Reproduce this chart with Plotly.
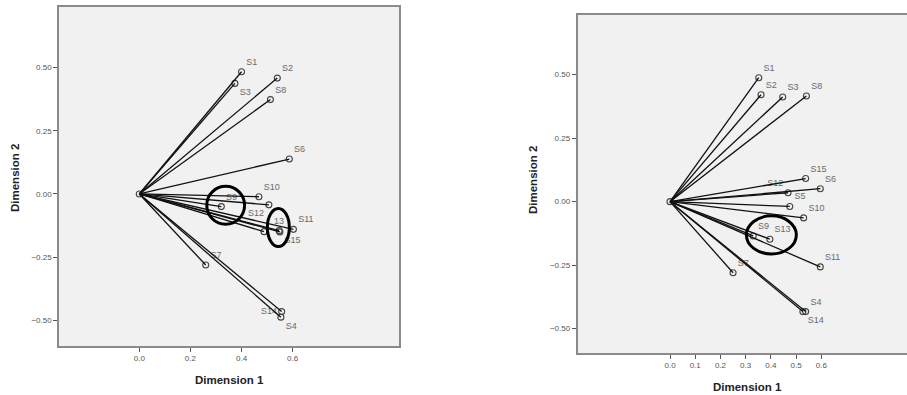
import plotly.graph_objects as go

# ---- Left panel data ----
left_labels = ["S1", "S2", "S3", "S4", "S5", "S6", "S7", "S8", "S9", "S10", "S11", "S12", "S13", "S14", "S15"]
left_dim1 = [0.40, 0.54, 0.374, 0.554, 0.488, 0.587, 0.26, 0.513, 0.321, 0.468, 0.603, 0.507, 0.547, 0.557, 0.55]
left_dim2 = [0.483, 0.458, 0.437, -0.487, -0.149, 0.138, -0.281, 0.373, -0.05, -0.011, -0.14, -0.043, -0.145, -0.465, -0.15]
left_shown = ["S1", "S2", "S3", "S4", "", "S6", "S7", "S8", "S9", "S10", "S11", "S12", "13", "S14", "S15"]
left_textpos = ["top right", "top right", "bottom right", "bottom right", "top right", "top right", "top right",
                "top right", "top right", "top right", "top right", "bottom left", "top center", "middle left", "bottom right"]

# ---- Right panel data ----
right_labels = ["S1", "S2", "S3", "S4", "S5", "S6", "S7", "S8", "S9", "S10", "S11", "S12", "S13", "S14", "S15"]
right_dim1 = [0.352, 0.361, 0.447, 0.538, 0.475, 0.596, 0.25, 0.541, 0.33, 0.53, 0.596, 0.468, 0.396, 0.527, 0.538]
right_dim2 = [0.488, 0.421, 0.412, -0.433, -0.019, 0.051, -0.28, 0.416, -0.135, -0.064, -0.257, 0.035, -0.148, -0.433, 0.091]
right_textpos = ["top right", "top right", "top right", "top right", "top right", "top right", "top right",
                 "top right", "top right", "top right", "top right", "top left", "top right", "bottom right", "top right"]

# ---- highlight ellipses (data coords) ----
left_ellipses = [(0.264, -0.12, 0.412, 0.03), (0.501, -0.208, 0.587, -0.057)]
right_ellipses = [(0.303, -0.206, 0.501, -0.056)]

y_ticks = [-0.5, -0.25, 0.0, 0.25, 0.5]
left_x_ticks = [0.0, 0.2, 0.4, 0.6]
right_x_ticks = [0.0, 0.1, 0.2, 0.3, 0.4, 0.5, 0.6]

W, H = 907, 395
fig = go.Figure()


def add_panel(fig, xs, ys, shown, pos, xa, ya):
    # markers + labels (drawn first so vectors pass over label text)
    fig.add_trace(go.Scatter(
        x=[0] + xs, y=[0] + ys, mode="markers+text",
        text=[""] + shown, textposition=["top right"] + pos,
        textfont=dict(family="Liberation Sans, Arial", size=9, color="#6a6a6a"),
        marker=dict(symbol="circle-open", size=6, color="#444444", line=dict(width=1.1)),
        xaxis=xa, yaxis=ya, showlegend=False, hoverinfo="skip", cliponaxis=False))
    lx, ly = [], []
    for x, y in zip(xs, ys):
        lx += [0, x, None]
        ly += [0, y, None]
    fig.add_trace(go.Scatter(x=lx, y=ly, mode="lines", line=dict(color="#111111", width=1.3),
                             xaxis=xa, yaxis=ya, showlegend=False, hoverinfo="skip"))


add_panel(fig, left_dim1, left_dim2, left_shown, left_textpos, "x", "y")
add_panel(fig, right_dim1, right_dim2, right_labels, right_textpos, "x2", "y2")

for (x0, y0, x1, y1) in left_ellipses:
    fig.add_shape(type="circle", xref="x", yref="y", x0=x0, y0=y0, x1=x1, y1=y1,
                  line=dict(color="black", width=3))
for (x0, y0, x1, y1) in right_ellipses:
    fig.add_shape(type="circle", xref="x2", yref="y2", x0=x0, y0=y0, x1=x1, y1=y1,
                  line=dict(color="black", width=3))

axis_common = dict(showgrid=False, zeroline=False, showline=True,
                   linecolor="#8a8a8a", linewidth=1.5, ticks="outside", ticklen=4,
                   tickcolor="#555555", tickfont=dict(family="Liberation Sans, Arial", size=8, color="#555555"))

fig.update_layout(
    width=W, height=H, margin=dict(l=0, r=0, t=0, b=0),
    paper_bgcolor="white", plot_bgcolor="#f1f1f1",
    xaxis=dict(domain=[59 / W, 399 / W], range=[-0.314, 1.016], tickvals=left_x_ticks,
               tickformat=".1f", anchor="y", mirror=True, **axis_common),
    yaxis=dict(domain=[1 - 346 / H, 1 - 7 / H], range=[-0.601, 0.739], tickvals=y_ticks,
               tickformat=".2f", anchor="x", mirror=True, **axis_common),
    xaxis2=dict(domain=[577.5 / W, 1.0], range=[-0.367, 0.94], tickvals=right_x_ticks,
                tickformat=".1f", anchor="y2", mirror=True, **axis_common),
    yaxis2=dict(domain=[1 - 353 / H, 1 - 15 / H], range=[-0.596, 0.735], tickvals=y_ticks,
                tickformat=".2f", anchor="x2", mirror=False, **axis_common),
)

title_font = dict(family="Liberation Sans, Arial", size=11.5, color="#222222")
annots = [
    dict(text="<b>Dimension 1</b>", x=229 / W, y=1 - 380 / H),
    dict(text="<b>Dimension 1</b>", x=747 / W, y=1 - 387 / H),
    dict(text="<b>Dimension 2</b>", x=15 / W, y=1 - 178 / H, textangle=-90),
    dict(text="<b>Dimension 2</b>", x=533 / W, y=1 - 180 / H, textangle=-90),
]
for a in annots:
    fig.add_annotation(xref="paper", yref="paper", showarrow=False, font=title_font,
                       xanchor="center", yanchor="middle", **a)

fig.write_html("out.html")
